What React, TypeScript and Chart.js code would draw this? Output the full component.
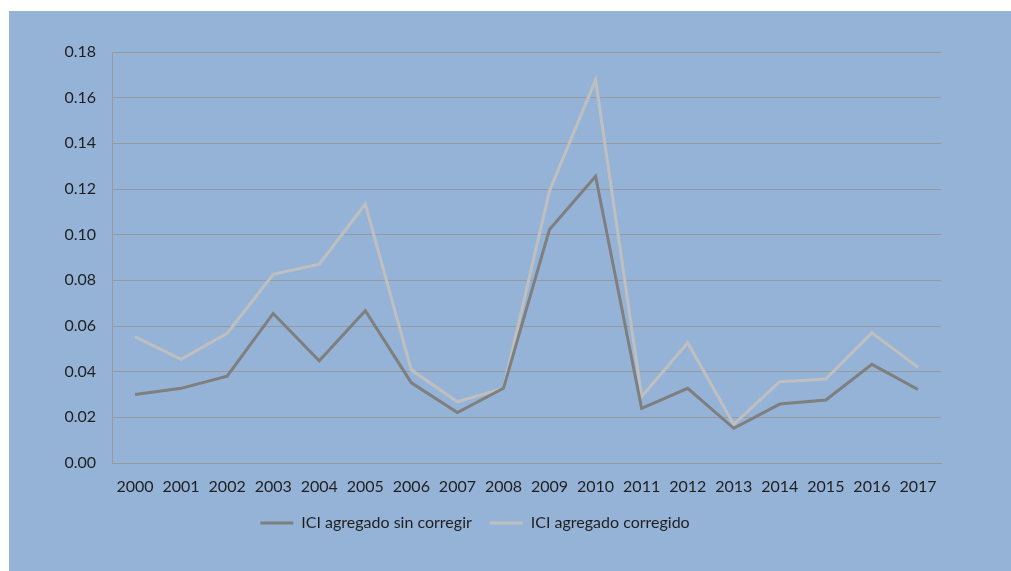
import React, { useEffect, useRef } from "react";
import { Chart, registerables } from "chart.js";

Chart.register(...registerables);

const years = [
  "2000", "2001", "2002", "2003", "2004", "2005", "2006", "2007", "2008",
  "2009", "2010", "2011", "2012", "2013", "2014", "2015", "2016", "2017",
];

const sinCorregir = [
  0.030, 0.0327, 0.038, 0.0655, 0.0448, 0.0667, 0.0351, 0.0221, 0.0327,
  0.1023, 0.1256, 0.0239, 0.0327, 0.0152, 0.0258, 0.0276, 0.0432, 0.0322,
];

const corregido = [
  0.0553, 0.0454, 0.0568, 0.0826, 0.0871, 0.1134, 0.0407, 0.0268, 0.0327,
  0.1192, 0.1678, 0.029, 0.0527, 0.0169, 0.0356, 0.0368, 0.057, 0.0419,
];

const seriesNames = ["ICI agregado sin corregir", "ICI agregado corregido"];

const FONT = "Lato, 'Open Sans', sans-serif";
const TEXT = "#1f1f1f";
const GRID = "#969aa0";

export default function App() {
  const ref = useRef<HTMLCanvasElement>(null);

  useEffect(() => {
    if (!ref.current) return;
    const chart = new Chart(ref.current, {
      type: "line",
      data: {
        labels: years,
        datasets: [
          {
            label: seriesNames[0],
            data: sinCorregir,
            borderColor: "#7f7f7f",
            backgroundColor: "#7f7f7f",
            borderWidth: 3,
            pointRadius: 0,
            tension: 0,
          },
          {
            label: seriesNames[1],
            data: corregido,
            borderColor: "#bfbfbf",
            backgroundColor: "#bfbfbf",
            borderWidth: 3,
            pointRadius: 0,
            tension: 0,
          },
        ],
      },
      options: {
        responsive: false,
        animation: false,
        layout: { padding: { left: 0, top: 41, right: 70, bottom: 30 } },
        plugins: {
          tooltip: { enabled: false },
          legend: {
            position: "bottom",
            labels: {
              color: TEXT,
              font: { family: FONT, size: 16 },
              boxWidth: 33,
              boxHeight: 3,
              padding: 18,
              generateLabels: (c: any) =>
                c.data.datasets.map((d: any, i: number) => ({
                  text: d.label,
                  fillStyle: d.borderColor,
                  strokeStyle: d.borderColor,
                  lineWidth: 0,
                  fontColor: TEXT,
                  datasetIndex: i,
                  hidden: false,
                })),
            },
          },
        },
        scales: {
          x: {
            offset: true,
            grid: { display: false, drawTicks: false, offset: true },
            border: { display: true, color: GRID, width: 1 },
            ticks: {
              color: TEXT,
              font: { family: FONT, size: 16 },
              padding: 14,
              maxRotation: 0,
              autoSkip: false,
            },
            afterFit: (s: any) => {
              s.height = 34;
            },
          },
          y: {
            min: 0,
            max: 0.18,
            grid: { color: GRID, lineWidth: 1, drawTicks: false },
            border: { display: true, color: GRID, width: 1 },
            ticks: {
              stepSize: 0.02,
              color: TEXT,
              font: { family: FONT, size: 16 },
              padding: 16,
              callback: (v: any) => Number(v).toFixed(2),
            },
            afterFit: (s: any) => {
              s.width = 103;
            },
          },
        },
      },
    });
    return () => chart.destroy();
  }, []);

  return (
    <div
      style={{
        position: "absolute",
        left: 9,
        top: 11,
        width: 1002,
        height: 560,
        background: "#95b3d7",
      }}
    >
      <canvas ref={ref} width={1002} height={560} style={{ width: 1002, height: 560, display: "block" }} />
    </div>
  );
}
